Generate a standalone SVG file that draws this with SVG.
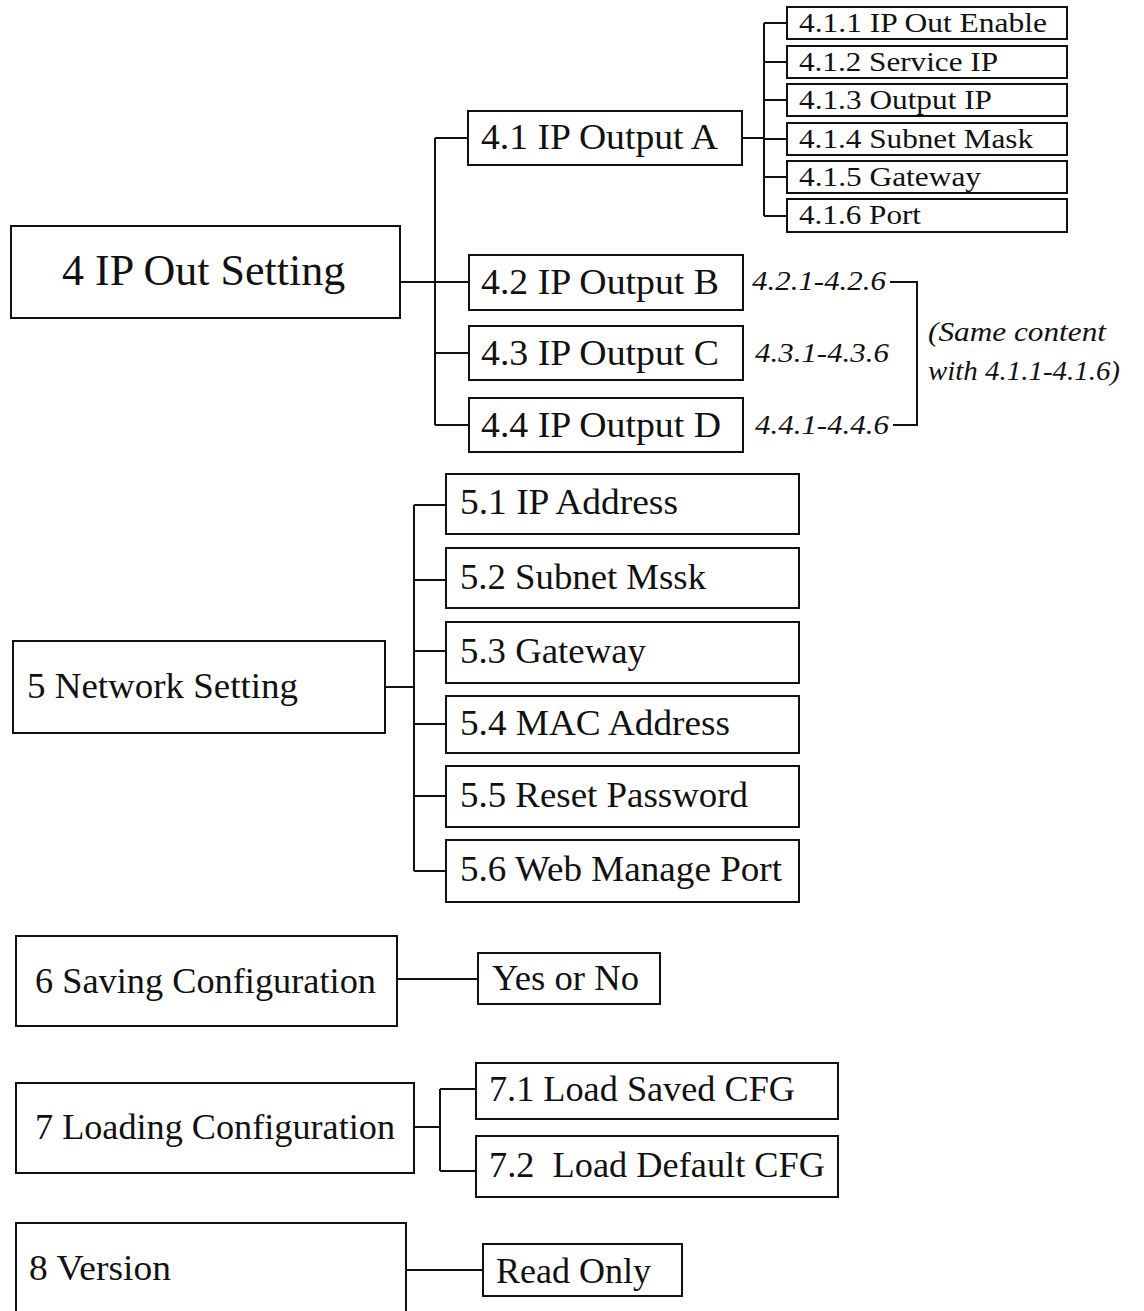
<svg xmlns="http://www.w3.org/2000/svg" width="1144" height="1311" viewBox="0 0 1144 1311">
<style>
rect{fill:#fff;stroke:#111;stroke-width:2}
.c line,.c path{stroke:#111;stroke-width:2;fill:none}
text{font-family:"Liberation Serif","Times New Roman",serif;fill:#111}
.t44{font-size:44px}
.t36{font-size:36px}
.t28{font-size:28px}
.it{font-size:28px;font-style:italic}
</style>
<rect x="0" y="0" width="1144" height="1311" style="stroke:none"/>
<g class="c" id="connectors">
<line x1="400" y1="282" x2="435" y2="282"/>
<line x1="435" y1="138" x2="435" y2="425"/>
<line x1="435" y1="138" x2="468" y2="138"/>
<line x1="435" y1="282" x2="469" y2="282"/>
<line x1="435" y1="353" x2="469" y2="353"/>
<line x1="435" y1="425" x2="469" y2="425"/>
<line x1="742" y1="138" x2="764" y2="138"/>
<line x1="764" y1="23" x2="764" y2="216"/>
<line x1="764" y1="23" x2="787" y2="23"/>
<line x1="764" y1="62" x2="787" y2="62"/>
<line x1="764" y1="100" x2="787" y2="100"/>
<line x1="764" y1="139" x2="787" y2="139"/>
<line x1="764" y1="177" x2="787" y2="177"/>
<line x1="764" y1="216" x2="787" y2="216"/>
<path d="M890 282 H917 V425 H893"/>
<line x1="380" y1="687" x2="414" y2="687"/>
<line x1="414" y1="505" x2="414" y2="871"/>
<line x1="414" y1="505" x2="446" y2="505"/>
<line x1="414" y1="580" x2="446" y2="580"/>
<line x1="414" y1="651" x2="446" y2="651"/>
<line x1="414" y1="724" x2="446" y2="724"/>
<line x1="414" y1="796" x2="446" y2="796"/>
<line x1="414" y1="871" x2="446" y2="871"/>
<line x1="397" y1="979" x2="478" y2="979"/>
<line x1="414" y1="1127" x2="440" y2="1127"/>
<line x1="440" y1="1089" x2="440" y2="1171"/>
<line x1="440" y1="1089" x2="476" y2="1089"/>
<line x1="440" y1="1171" x2="476" y2="1171"/>
<line x1="406" y1="1270" x2="483" y2="1270"/>
</g>
<g id="n4"><rect x="11" y="226" width="389" height="92"/><text class="t44" x="62" y="285">4 IP Out Setting</text></g>
<g id="n41"><rect x="468" y="111" width="274" height="54"/><text class="t36" x="481" y="149" textLength="237" lengthAdjust="spacingAndGlyphs">4.1 IP Output A</text></g>
<g id="n42"><rect x="469" y="255" width="274" height="55"/><text class="t36" x="481" y="294" textLength="238" lengthAdjust="spacingAndGlyphs">4.2 IP Output B</text></g>
<g id="n43"><rect x="469" y="326" width="274" height="54"/><text class="t36" x="481" y="365" textLength="238" lengthAdjust="spacingAndGlyphs">4.3 IP Output C</text></g>
<g id="n44"><rect x="469" y="398" width="274" height="54"/><text class="t36" x="481" y="437" textLength="240" lengthAdjust="spacingAndGlyphs">4.4 IP Output D</text></g>
<g id="n411"><rect x="787" y="7" width="280" height="32"/><text class="t28" x="799" y="32" textLength="248" lengthAdjust="spacingAndGlyphs">4.1.1 IP Out Enable</text></g>
<g id="n412"><rect x="787" y="46" width="280" height="32"/><text class="t28" x="799" y="71" textLength="199" lengthAdjust="spacingAndGlyphs">4.1.2 Service IP</text></g>
<g id="n413"><rect x="787" y="84" width="280" height="32"/><text class="t28" x="799" y="109" textLength="193" lengthAdjust="spacingAndGlyphs">4.1.3 Output IP</text></g>
<g id="n414"><rect x="787" y="123" width="280" height="32"/><text class="t28" x="799" y="148" textLength="234" lengthAdjust="spacingAndGlyphs">4.1.4 Subnet Mask</text></g>
<g id="n415"><rect x="787" y="161" width="280" height="32"/><text class="t28" x="799" y="186" textLength="182" lengthAdjust="spacingAndGlyphs">4.1.5 Gateway</text></g>
<g id="n416"><rect x="787" y="199" width="280" height="33"/><text class="t28" x="799" y="224" textLength="122" lengthAdjust="spacingAndGlyphs">4.1.6 Port</text></g>
<g id="notes">
<text class="it" x="752" y="290" textLength="134" lengthAdjust="spacingAndGlyphs">4.2.1-4.2.6</text>
<text class="it" x="755" y="362" textLength="134" lengthAdjust="spacingAndGlyphs">4.3.1-4.3.6</text>
<text class="it" x="755" y="434" textLength="134" lengthAdjust="spacingAndGlyphs">4.4.1-4.4.6</text>
<text class="it" x="928" y="341" textLength="178" lengthAdjust="spacingAndGlyphs">(Same content</text>
<text class="it" x="928" y="380" textLength="192" lengthAdjust="spacingAndGlyphs">with 4.1.1-4.1.6)</text>
</g>
<g id="n5"><rect x="13" y="641" width="372" height="92"/><text class="t36" x="27" y="698" textLength="271" lengthAdjust="spacingAndGlyphs">5 Network Setting</text></g>
<g id="n51"><rect x="446" y="474" width="353" height="60"/><text class="t36" x="460" y="514" textLength="218" lengthAdjust="spacingAndGlyphs">5.1 IP Address</text></g>
<g id="n52"><rect x="446" y="548" width="353" height="60"/><text class="t36" x="460" y="589" textLength="246" lengthAdjust="spacingAndGlyphs">5.2 Subnet Mssk</text></g>
<g id="n53"><rect x="446" y="622" width="353" height="61"/><text class="t36" x="460" y="663" textLength="186" lengthAdjust="spacingAndGlyphs">5.3 Gateway</text></g>
<g id="n54"><rect x="446" y="696" width="353" height="57"/><text class="t36" x="460" y="735" textLength="270" lengthAdjust="spacingAndGlyphs">5.4 MAC Address</text></g>
<g id="n55"><rect x="446" y="766" width="353" height="61"/><text class="t36" x="460" y="807" textLength="288" lengthAdjust="spacingAndGlyphs">5.5 Reset Password</text></g>
<g id="n56"><rect x="446" y="840" width="353" height="62"/><text class="t36" x="460" y="881" textLength="322" lengthAdjust="spacingAndGlyphs">5.6 Web Manage Port</text></g>
<g id="n6"><rect x="16" y="936" width="381" height="90"/><text class="t36" x="35" y="993" textLength="341" lengthAdjust="spacingAndGlyphs">6 Saving Configuration</text></g>
<g id="n6a"><rect x="478" y="953" width="182" height="51"/><text class="t36" x="492" y="990" textLength="147" lengthAdjust="spacingAndGlyphs">Yes or No</text></g>
<g id="n7"><rect x="16" y="1083" width="398" height="90"/><text class="t36" x="35" y="1139" textLength="360" lengthAdjust="spacingAndGlyphs">7 Loading Configuration</text></g>
<g id="n71"><rect x="476" y="1063" width="362" height="56"/><text class="t36" x="489" y="1101" textLength="306" lengthAdjust="spacingAndGlyphs">7.1 Load Saved CFG</text></g>
<g id="n72"><rect x="476" y="1136" width="362" height="61"/><text class="t36" x="489" y="1177" xml:space="preserve" textLength="336" lengthAdjust="spacingAndGlyphs">7.2  Load Default CFG</text></g>
<g id="n8"><rect x="16" y="1223" width="390" height="100"/><text class="t36" x="29" y="1280" textLength="142" lengthAdjust="spacingAndGlyphs">8 Version</text></g>
<g id="n8a"><rect x="483" y="1244" width="199" height="52"/><text class="t36" x="496" y="1283" textLength="155" lengthAdjust="spacingAndGlyphs">Read Only</text></g>
</svg>
